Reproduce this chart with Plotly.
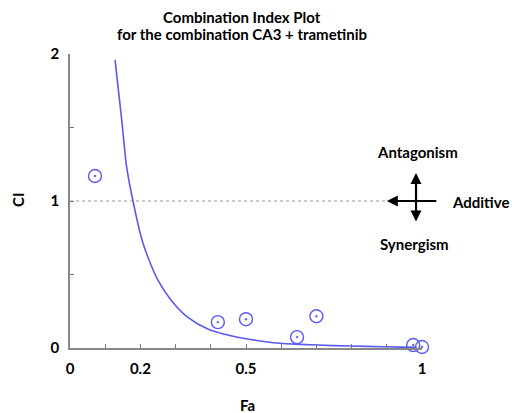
import plotly.graph_objects as go

# Observed data points (Fa, CI)
fa_points = [0.071, 0.42, 0.50, 0.645, 0.70, 0.975, 1.0]
ci_points = [1.17, 0.176, 0.196, 0.074, 0.216, 0.02, 0.007]

# Simulated CI curve
curve_fa = [0.128, 0.147, 0.161, 0.178, 0.204, 0.222, 0.251, 0.289, 0.336,
            0.393, 0.44, 0.483, 0.54, 0.597, 0.653, 0.747, 0.843, 0.938, 0.985]
curve_ci = [1.96, 1.55, 1.23, 1.01, 0.74, 0.614, 0.456, 0.32, 0.206,
            0.127, 0.093, 0.07, 0.048, 0.032, 0.025, 0.016, 0.011, 0.006, 0.004]

x_tickvals = [0, 0.1, 0.2, 0.3, 0.4, 0.5, 0.6, 0.7, 0.8, 0.9, 1.0]
x_ticktext = ["0", "", "0.2", "", "", "0.5", "", "", "", "", "1"]
y_tickvals = [0, 0.5, 1, 1.5, 2]
y_ticktext = ["0", "", "1", "", "2"]

BLUE = "#5a5af0"
FONT = "Lato"
FS = 15

fig = go.Figure()
fig.add_trace(go.Scatter(x=curve_fa, y=curve_ci, mode="lines",
                         line=dict(color=BLUE, width=1.6, shape="spline", smoothing=0.8),
                         hoverinfo="skip", cliponaxis=False))
fig.add_trace(go.Scatter(x=fa_points, y=ci_points, mode="markers",
                         marker=dict(symbol="circle-open-dot", size=13,
                                     color=BLUE, line=dict(width=1.4, color=BLUE)),
                         cliponaxis=False))

# Additive reference line at CI = 1
fig.add_shape(type="line", xref="x", yref="y", x0=0, x1=0.9, y0=1, y1=1,
              line=dict(color="#999999", width=1, dash="dot"), layer="below")

# Arrows
fig.add_annotation(x=0.90, y=1, ax=1.045, ay=1, xref="x", yref="y", axref="x", ayref="y",
                   showarrow=True, arrowhead=2, arrowsize=1, arrowwidth=2.2,
                   arrowcolor="black", text="")
fig.add_annotation(x=0.983, y=1.19, ax=0.983, ay=0.85, xref="x", yref="y", axref="x", ayref="y",
                   showarrow=True, arrowhead=2, startarrowhead=2, arrowside="end+start",
                   arrowsize=1, startarrowsize=1, arrowwidth=2.2, arrowcolor="black", text="")

lab = dict(family=FONT, size=FS, color="black")
H = 294.0  # plot height in px, for paper coords


def note(x, y, text, **kw):
    fig.add_annotation(x=x, y=y, xref="paper", yref="paper", text=text,
                       showarrow=False, font=lab, xanchor="center", yanchor="middle",
                       borderpad=0, **kw)


note(0.986, 1.33 / 2, "<b>Antagonism</b>")
note(1.165, 0.99 / 2, "<b>Additive</b>")
note(0.98, 0.71 / 2, "<b>Synergism</b>")

# Title lines
note(0.49, 1 + 37 / H, "<b>Combination Index Plot</b>")
note(0.49, 1 + 20 / H, "<b>for the combination CA3 + trametinib</b>")

# Axis titles
note(0.503, -57 / H, "<b>Fa</b>")
note(-0.148, 0.503, "<b>CI</b>", textangle=-90)

fig.update_layout(
    width=512, height=405,
    margin=dict(l=62, r=98, t=46, b=65, autoexpand=False),
    paper_bgcolor="white", plot_bgcolor="white",
    showlegend=False,
    font=dict(family=FONT, size=FS, color="black"),
)
tf = dict(family=FONT, size=FS, color="black", weight="bold")
fig.update_xaxes(range=[0, 1], tickvals=x_tickvals, ticktext=x_ticktext,
                 ticks="inside", ticklen=4, tickcolor="#777", tickwidth=1,
                 showline=True, linecolor="#888", linewidth=1.5, showgrid=False,
                 zeroline=False, tickfont=tf, ticklabelstandoff=6, automargin=False)
fig.update_yaxes(range=[0, 2], tickvals=y_tickvals, ticktext=y_ticktext,
                 ticks="inside", ticklen=4, tickcolor="#777", tickwidth=1,
                 showline=True, linecolor="#888", linewidth=1.5, showgrid=False,
                 zeroline=False, tickfont=tf, ticklabelstandoff=6, automargin=False)

fig.write_html("out.html")
